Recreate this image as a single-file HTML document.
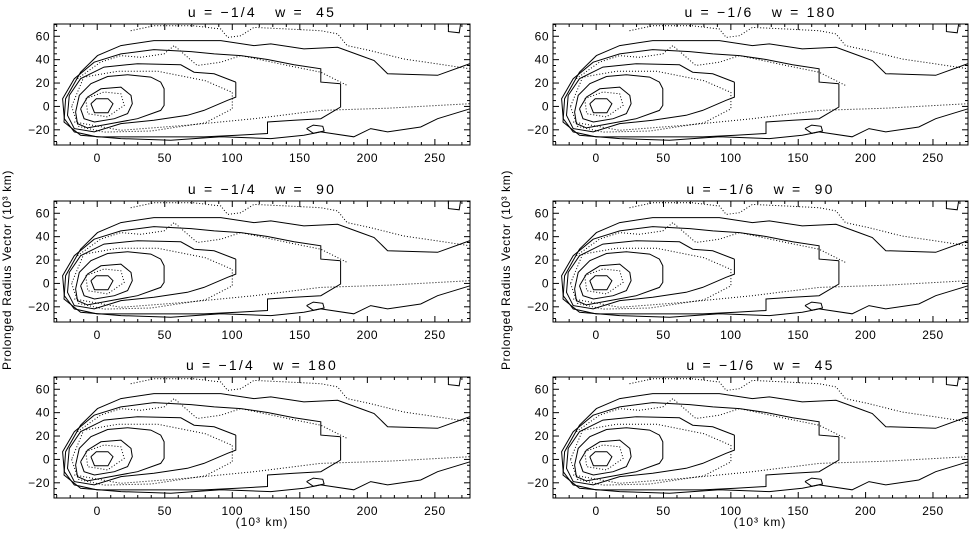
<!DOCTYPE html>
<html><head><meta charset="utf-8">
<style>
html,body{margin:0;padding:0;background:#fff;}
svg{display:block;font-family:"Liberation Sans",sans-serif;}
</style></head>
<body>
<svg id="fig" width="971" height="539" viewBox="0 0 971 539">
<text x="11" y="270" transform="rotate(-90 11 270)" text-anchor="middle" font-size="12" letter-spacing="0.6">Prolonged Radius Vector (10³ km)</text>
<text x="510" y="270" transform="rotate(-90 510 270)" text-anchor="middle" font-size="12" letter-spacing="0.6">Prolonged Radius Vector (10³ km)</text>
<text x="262" y="526" text-anchor="middle" font-size="12" letter-spacing="1">(10³ km)</text>
<text x="760" y="526" text-anchor="middle" font-size="12" letter-spacing="1">(10³ km)</text>
</svg>
<script>
// ---- data (x, y in 10^3 km) ----
const panelTitles = ["u = −1/4   w =  45","u = −1/4   w =  90","u = −1/4   w = 180","u = −1/6   w = 180","u = −1/6   w =  90","u = −1/6   w =  45"];
const xTicks = [0,50,100,150,200,250];
const yTicks = [-20,0,20,40,60];
const xDomain = [-32,276];
const yDomain = [-33,70.5];
const solidInner = [[-4.7,2.3],[-0.7,6.6],[8,6.6],[11.7,2.3],[8,-5.4],[-2,-5.4],[-4.7,2.3]];
const solid2 = [[-12.3,-2],[-7.2,8],[2.8,15.1],[17.5,16.5],[25,9.4],[26,2.3],[22.5,-6.1],[12.7,-10.5],[-2,-13.3],[-9.7,-10.5],[-12.3,-2]];
const solid3 = [[-16,-4.8],[-13.3,9.4],[-4.7,19.4],[7.7,25.6],[22.5,27.1],[39.7,25.1],[47,20.8],[49.5,15.1],[49.5,0.9],[47,-3.4],[29.8,-10.5],[10,-14.7],[-7.2,-18.4],[-14.6,-14.7],[-16,-4.8]];
const solid4 = [[102.6,20.8],[102.6,8],[96.5,5.2],[79,-3.4],[66.8,-7.6],[42,-11.9],[17.5,-14.7],[-2.2,-21.8],[-17,-19],[-22,-7.6],[-20.7,9.4],[-12.3,23.7],[5,33.6],[29.8,36.5],[61.9,35.6],[71.7,29.3],[86.5,27.9],[102.6,20.8]];
const solid5 = [[180.2,19.4],[165.5,20.8],[165.5,32.2],[145.8,35.6],[126.1,40.1],[106.4,43.5],[86.7,44.9],[69.5,46.9],[42,48.6],[17.5,44.9],[-2.2,37.8],[-17,23.7],[-25.6,6.6],[-24.4,-10.5],[-17,-21.8],[-0.1,-26.1],[42,-26.1],[79,-26.1],[103.6,-24.7],[126.1,-23.2],[126.1,-13.3],[145.8,-11.9],[165.5,-10.5],[180.2,-0.5],[180.2,19.4]];
const solidOuter = [[276,36.6],[252,26.6],[215,28],[205,39.3],[195,43.5],[178,50.6],[153,49.2],[128.5,53.5],[116,52],[91.5,56.3],[66.8,56.3],[42,56.3],[17.5,52],[0.2,43.5],[-12.3,29.3],[-23.4,6.6],[-24.6,-13.3],[-12.3,-24.7],[17.5,-27.5],[54.5,-29],[91.5,-26],[128.5,-27.5],[153,-24.7],[165.5,-21.8],[190,-26],[202.5,-19],[215,-21.8],[239.5,-17.6],[252,-10.5],[276,-2]];
const solidBlob = [[155,-19],[160,-16],[167,-17],[168,-21],[160,-23],[155,-19]];
const solidCorner = [[260,71],[260,64],[268,63],[269,70]];
const dotTop = [[24.8,64.8],[42,69],[71.5,69],[91.5,66.2],[96.5,59],[106.4,60.5],[116,67.6],[141,66.2],[165.5,64.8],[178,62],[185,52],[202.5,47.7],[227,40.6],[252,36.4],[276,32.2]];
const dotUpper = [[-14.6,23.7],[2.4,37.8],[17.5,43.5],[32.2,42],[49.5,44.9],[57,52],[74,35],[91.5,37.8],[106.4,43.5],[141,35],[165.5,29.3],[185,18]];
const dotLower = [[-17,-13.3],[17.5,-20.4],[66.8,-16.1],[116,-10.5],[165.5,-3.4],[215,-1.5],[276,2.3]];
const dotInner = [[-8.5,6.6],[5,12.3],[17.5,10.8],[20,0.9],[7.7,-9],[-7,-6.2],[-8.5,6.6]];
const dotMid = [[-19,0],[-14,-17],[5,-22],[40,-21],[80,-14],[100,-2],[100,12],[80,22],[45,30],[15,30],[-10,25],[-19,0]];

const solidSet = [solidInner,solid2,solid3,solid4,solid5,solidOuter,solidBlob,solidCorner];
const dotSet = [dotTop,dotUpper,dotLower,dotInner,dotMid];

const NS="http://www.w3.org/2000/svg";
const svg=document.getElementById('fig');
const cols=[[54,470],[553,968]];
const rows=[24,201,377];
const H=121;
function mk(tag,attrs,parent){const e=document.createElementNS(NS,tag);for(const k in attrs)e.setAttribute(k,attrs[k]);parent.appendChild(e);return e;}

for(let c=0;c<2;c++){for(let r=0;r<3;r++){
  const idx=c*3+r;
  const x0=cols[c][0],x1=cols[c][1],y0=rows[r],y1=rows[r]+H;
  const sx=v=>x0+(v-xDomain[0])/(xDomain[1]-xDomain[0])*(x1-x0);
  const sy=v=>y1-(v-yDomain[0])/(yDomain[1]-yDomain[0])*(y1-y0);
  const g=mk('g',{},svg);
  
  
  const t=mk('text',{x:(x0+x1)/2,y:y0-7,'text-anchor':'middle','font-size':14,'letter-spacing':2.2},g);
  t.setAttribute('style','white-space:pre');
  t.textContent=panelTitles[idx];
  
  
  const cg=mk('g',{},g);
  const drawSet=(set,dash)=>{set.forEach(pts=>{
    const p=mk('polyline',{points:pts.map(q=>sx(q[0]).toFixed(1)+','+sy(q[1]).toFixed(1)).join(' '),fill:'none',stroke:'#000','stroke-width':1},cg);
    if(dash)p.setAttribute('stroke-dasharray','1,2');
    
    
  });};
  drawSet(solidSet,false);drawSet(dotSet,true);
  const box=mk('rect',{x:x0,y:y0,width:x1-x0,height:H,fill:'none',stroke:'#000','stroke-width':1},g);
  
  
  for(let v=-30;v<=270;v+=10){const X=sx(v);const L=(v%50===0)?6:3;
    mk('line',{x1:X,x2:X,y1:y1,y2:y1-L,stroke:'#000'},g);mk('line',{x1:X,x2:X,y1:y0,y2:y0+L,stroke:'#000'},g);}
  for(let v=-30;v<=70;v+=5){const Y=sy(v);const L=(v%20===0)?6:3;
    mk('line',{x1:x0,x2:x0+L,y1:Y,y2:Y,stroke:'#000'},g);mk('line',{x1:x1,x2:x1-L,y1:Y,y2:Y,stroke:'#000'},g);}
  xTicks.forEach(v=>{const tt=mk('text',{x:sx(v),y:y1+17,'text-anchor':'middle','font-size':12,'letter-spacing':0.5},g);tt.textContent=v;
    
    });
  yTicks.forEach(v=>{const tt=mk('text',{x:x0-4,y:sy(v)+4,'text-anchor':'end','font-size':12,'letter-spacing':0.5},g);tt.textContent=(v<0?'−'+(-v):v);
    
    });
}}
</script>
</body></html>
